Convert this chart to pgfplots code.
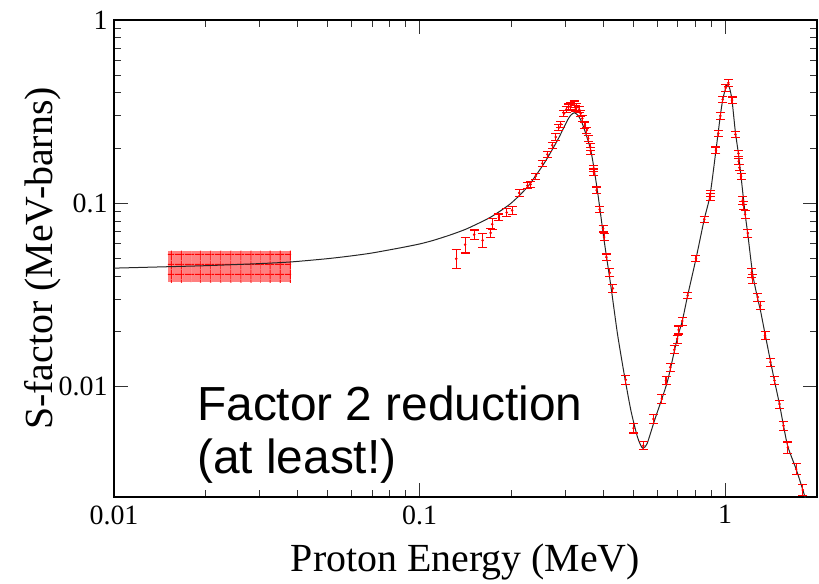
\documentclass[border=0pt]{standalone}
\usepackage{pgfplots}
\pgfplotsset{compat=1.18}
\usepackage{pgfplotstable}
\usetikzlibrary{patterns.meta}
\usepackage{fontspec}
\setmainfont{Liberation Serif}
\newfontfamily\arial{Liberation Sans}

\pgfplotstableread{
x y
0.01 0.0443
0.015 0.0451
0.02 0.0457
0.03 0.0469
0.038 0.0479
0.05 0.0499
0.06 0.0517
0.07 0.0536
0.0867 0.0572
0.1 0.0600
0.111 0.0628
0.126 0.0672
0.143 0.0727
0.171 0.0841
0.1986 0.0996
0.2255 0.1227
0.2556 0.165
0.283 0.221
0.305 0.284
0.313 0.303
0.321 0.312
0.330 0.302
0.341 0.2725
0.3635 0.195
0.382 0.118
0.402 0.0628
0.4236 0.0348
0.4446 0.0194
0.4675 0.01173
0.492 0.0074
0.5175 0.00528
0.537 0.00462
0.556 0.00490
0.587 0.0065
0.621 0.00857
0.650 0.0109
0.697 0.0182
0.7245 0.0228
0.7545 0.0314
0.8034 0.0499
0.855 0.0818
0.893 0.1105
0.934 0.195
0.965 0.300
0.983 0.368
1.005 0.4266
1.018 0.445
1.035 0.425
1.054 0.3655
1.081 0.245
1.106 0.187
1.128 0.1405
1.163 0.0880
1.187 0.0680
1.232 0.0410
1.280 0.0300
1.305 0.0262
1.352 0.0194
1.408 0.0138
1.451 0.0108
1.507 0.00804
1.553 0.00615
1.606 0.00470
1.709 0.00355
1.798 0.00273
1.87 0.0022
}\fitcurve

\pgfplotstableread{
x y e
0.1319 0.0499 0.12
0.141 0.0595 0.10
0.151 0.0675 0.06
0.161 0.0628 0.09
0.171 0.0690 0.06
0.173 0.0770 0.07
0.182 0.0841 0.04
0.193 0.0890 0.05
0.201 0.0916 0.05
0.212 0.114 0.04
0.2255 0.125 0.04
0.231 0.127 0.04
0.240 0.1406 0.04
0.2524 0.165 0.04
0.262 0.185 0.04
0.272 0.2075 0.04
0.279 0.230 0.04
0.286 0.259 0.04
0.290 0.270 0.04
0.297 0.309 0.04
0.302 0.325 0.04
0.307 0.335 0.04
0.3126 0.339 0.04
0.3207 0.3475 0.04
0.325 0.330 0.04
0.327 0.336 0.04
0.333 0.325 0.04
0.337 0.309 0.04
0.341 0.290 0.04
0.348 0.267 0.04
0.353 0.2506 0.04
0.3566 0.226 0.04
0.3617 0.203 0.04
0.3635 0.193 0.04
0.371 0.155 0.04
0.3725 0.148 0.04
0.380 0.118 0.04
0.389 0.0927 0.04
0.399 0.0727 0.04
0.402 0.0655 0.04
0.409 0.0509 0.04
0.4197 0.0418 0.05
0.4295 0.0344 0.05
0.473 0.0109 0.06
0.502 0.00594 0.06
0.540 0.00476 0.05
0.583 0.00666 0.06
0.621 0.00857 0.06
0.641 0.0108 0.05
0.662 0.01276 0.05
0.682 0.0159 0.05
0.697 0.0182 0.05
0.705 0.0204 0.05
0.7245 0.0228 0.05
0.7545 0.0314 0.04
0.8034 0.0499 0.04
0.855 0.0818 0.04
0.893 0.1083 0.04
0.895 0.113 0.04
0.934 0.195 0.04
0.951 0.2404 0.04
0.965 0.300 0.04
0.983 0.368 0.04
1.005 0.4266 0.04
1.025 0.454 0.04
1.054 0.3655 0.04
1.081 0.238 0.04
1.106 0.187 0.04
1.109 0.1697 0.04
1.114 0.1567 0.04
1.128 0.1405 0.04
1.143 0.1038 0.05
1.148 0.0977 0.05
1.163 0.0871 0.05
1.187 0.0688 0.05
1.223 0.0418 0.06
1.232 0.0388 0.06
1.280 0.0308 0.05
1.305 0.0277 0.05
1.352 0.0190 0.05
1.408 0.0136 0.05
1.451 0.0108 0.05
1.507 0.00804 0.05
1.553 0.00612 0.06
1.606 0.00466 0.07
1.709 0.00355 0.07
1.798 0.00273 0.07
}\sdata

\begin{document}
\begin{tikzpicture}
\useasboundingbox (-114bp,-87bp) rectangle (705bp,497bp);
\begin{axis}[
  at={(0,0)}, anchor=south west,
  scale only axis, width=703bp, height=477bp,
  xmode=log, ymode=log,
  xmin=0.01, xmax=2, ymin=0.0025, ymax=1,
  log ticks with fixed point,
  xtick={0.01,0.1,1}, ytick={0.01,0.1,1},
  tick align=inside,
  major tick length=14bp, minor tick length=7bp,
  axis line style={line width=1.2bp},
  every tick/.style={black!80, line width=1bp},
  /pgf/number format/assume math mode=true,
  ticklabel style={font=\fontsize{28}{28}\selectfont},
  yticklabel style={xshift=-3bp},
  xticklabel style={yshift=-5bp},
  xlabel={Proton Energy (MeV)},
  ylabel={S-factor (MeV-barns)},
  label style={font=\fontsize{40}{40}\selectfont},
  xlabel style={at={(axis description cs:0.5,-0.1572)}, anchor=base},
  ylabel style={at={(axis description cs:-0.087,0.5)}, anchor=base},
]
\addplot[fill=red!50, draw=none,
  postaction={pattern={Lines[distance=10bp, angle=0, line width=1bp]}, pattern color=red},
  postaction={pattern={Lines[distance=10bp, angle=90, line width=1bp]}, pattern color=red}]
  coordinates {(0.015,0.037) (0.038,0.037) (0.038,0.055) (0.015,0.055)} --cycle;
\addplot[black!85, line width=1bp, smooth, tension=0.4] table[x=x, y=y] {\fitcurve};
\addplot[red, only marks, mark=*, mark size=1.1bp,
  error bars/.cd, y dir=both, y explicit relative,
  error bar style={red, line width=1.1bp},
  error mark options={rotate=90, red, mark size=4.5bp, line width=1.1bp}]
  table[x=x, y=y, y error=e] {\sdata};
\end{axis}
\node[anchor=base west, inner sep=0pt, font=\arial\fontsize{48}{48}\selectfont] at (83bp,76bp) {Factor 2 reduction};
\node[anchor=base west, inner sep=0pt, font=\arial\fontsize{48}{48}\selectfont] at (83bp,24bp) {(at least!)};
\end{tikzpicture}
\end{document}
